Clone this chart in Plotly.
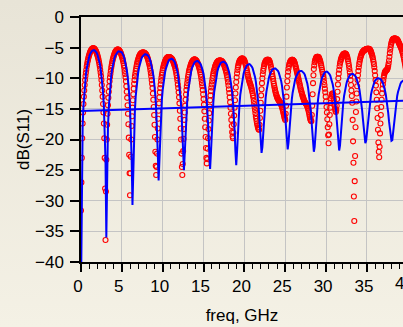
import base64
import plotly.graph_objects as go

# simulated trace grid (GHz), 0.0 .. 40.0 step 0.1
sim_freq = [round(0.1 * i, 2) for i in range(401)]
# measured trace grid (GHz), 0.0 .. 40.0 step 0.05
meas_freq = [round(0.05 * i, 2) for i in range(801)]

# simulated dB(S11) (blue line), one row per GHz
sim_db = [
    -45, -23.9, -17.9, -14.6, -12.3, -10.6, -9.4, -8.4, -7.6, -7.0,
    -6.5, -6.1, -5.8, -5.6, -5.5, -5.4, -5.4, -5.5, -5.6, -5.8,
    -6.1, -6.5, -7.0, -7.6, -8.4, -9.4, -10.6, -12.3, -14.6, -17.9,
    -23.6, -36.0, -23.8, -18.1, -14.8, -12.5, -10.8, -9.6, -8.6, -7.8,
    -7.2, -6.7, -6.3, -6.0, -5.8, -5.7, -5.6, -5.6, -5.6, -5.7,
    -5.8, -6.0, -6.3, -6.7, -7.2, -7.8, -8.6, -9.6, -10.8, -12.5,
    -14.7, -17.9, -23.2, -30.7, -23.6, -18.3, -15.2, -12.9, -11.2, -10.1,
    -9.1, -8.3, -7.7, -7.2, -6.8, -6.5, -6.3, -6.2, -6.1, -6.1,
    -6.1, -6.2, -6.3, -6.5, -6.8, -7.2, -7.7, -8.25, -9.05, -10.0,
    -11.2, -12.8, -15.0, -17.9, -22.3, -26.7, -23.0, -18.6, -15.7, -13.5,
    -11.9, -10.7, -9.75, -8.95, -8.4, -7.9, -7.5, -7.2, -7.0, -6.9,
    -6.8, -6.8, -6.9, -7.0, -7.2, -7.5, -7.85, -8.35, -8.9, -9.7,
    -10.7, -11.85, -13.4, -15.5, -18.4, -22.2, -25.0, -22.2, -18.6, -15.9,
    -13.8, -12.2, -11.1, -10.1, -9.3, -8.75, -8.25, -7.9, -7.6, -7.4,
    -7.3, -7.2, -7.2, -7.2, -7.3, -7.4, -7.6, -7.9, -8.25, -8.75,
    -9.3, -10.1, -11.1, -12.2, -13.8, -15.9, -18.6, -22.1, -24.8, -22.3,
    -18.7, -16.0, -13.9, -12.3, -11.2, -10.2, -9.4, -8.85, -8.35, -8.0,
    -7.7, -7.5, -7.4, -7.3, -7.3, -7.3, -7.4, -7.5, -7.7, -8.0,
    -8.35, -8.85, -9.4, -10.2, -11.15, -12.2, -13.8, -15.8, -18.4, -21.9,
    -24.2, -22.0, -18.8, -16.2, -14.2, -12.65, -11.6, -10.6, -9.8, -9.25,
    -8.75, -8.4, -8.1, -7.9, -7.8, -7.7, -7.7, -7.77, -7.87, -8.08,
    -8.35, -8.75, -9.2, -9.8, -10.55, -11.45, -12.5, -14.0, -15.8, -18.05,
    -20.6, -22.2, -21.25, -18.75, -16.5, -14.7, -13.2, -12.15, -11.25, -10.5,
    -9.9, -9.45, -9.05, -8.8, -8.6, -8.5, -8.4, -8.4, -8.4, -8.5,
    -8.6, -8.8, -9.05, -9.45, -9.9, -10.45, -11.2, -12.1, -13.15, -14.55,
    -16.3, -18.4, -20.7, -21.6, -20.5, -18.5, -16.5, -14.8, -13.5, -12.4,
    -11.5, -10.8, -10.3, -9.85, -9.45, -9.2, -9.0, -8.9, -8.8, -8.8,
    -8.8, -8.9, -9.0, -9.2, -9.45, -9.85, -10.3, -10.85, -11.6, -12.5,
    -13.55, -14.95, -16.7, -18.8, -21.1, -22.0, -21.2, -18.9, -16.8, -15.05,
    -13.65, -12.6, -11.7, -10.95, -10.4, -9.95, -9.55, -9.3, -9.1, -9.0,
    -8.9, -8.9, -9.0, -9.1, -9.3, -9.55, -9.95, -10.4, -10.95, -11.65,
    -12.55, -13.6, -15.0, -16.8, -18.8, -21.0, -21.8, -21.0, -19.0, -17.0,
    -15.3, -14.0, -12.9, -12.0, -11.3, -10.8, -10.35, -9.95, -9.7, -9.5,
    -9.4, -9.3, -9.3, -9.3, -9.4, -9.5, -9.7, -9.95, -10.3, -10.75,
    -11.3, -12.0, -12.8, -13.8, -15.1, -16.6, -18.3, -19.9, -20.6, -20.2,
    -18.75, -17.15, -15.7, -14.45, -13.5, -12.65, -12.0, -11.45, -11.0, -10.65,
    -10.35, -10.2, -10.1, -10.0, -10.0, -10.0, -10.1, -10.2, -10.35, -10.6,
    -11.0, -11.4, -11.95, -12.6, -13.45, -14.4, -15.6, -17.0, -18.5, -19.85,
    -20.2, -20.1, -18.8, -17.3, -15.9, -14.7, -13.75, -12.9, -12.25, -11.7,
    -11.3, -10.9, -10.65, -10.5, -10.4, -10.3, -10.3, -10.4, -10.55, -10.8,
    -11.2,
]

# measured dB(S11) (red circles), one row per GHz (20 points per row)
meas_db = [
    -31.6, -27.0, -23.0, -19.8, -17.4, -15.6, -14.2, -13.0, -12.0, -11.1, -10.3, -9.65, -9.1, -8.6, -8.1, -7.7, -7.3, -7.0, -6.7, -6.45,
    -6.2, -6.0, -5.8, -5.65, -5.5, -5.4, -5.3, -5.2, -5.15, -5.1, -5.1, -5.1, -5.15, -5.2, -5.3, -5.4, -5.5, -5.65, -5.8, -6.0,
    -6.2, -6.45, -6.7, -7.0, -7.3, -7.7, -8.1, -8.6, -9.1, -9.65, -10.3, -11.1, -12.0, -13.0, -14.2, -15.6, -17.4, -19.8, -23.0, -28.0,
    -36.4, -28.5, -23.3, -20.0, -17.6, -15.8, -14.4, -13.2, -12.2, -11.3, -10.5, -9.85, -9.3, -8.8, -8.3, -7.9, -7.5, -7.2, -6.9, -6.65,
    -6.4, -6.2, -6.0, -5.85, -5.7, -5.6, -5.5, -5.4, -5.35, -5.3, -5.3, -5.3, -5.35, -5.4, -5.5, -5.6, -5.7, -5.85, -6.0, -6.2,
    -6.4, -6.65, -6.9, -7.2, -7.5, -7.9, -8.3, -8.8, -9.3, -9.85, -10.5, -11.3, -12.2, -13.2, -14.4, -15.8, -17.5, -19.7, -22.5, -25.5,
    -29.1, -25.5, -22.8, -20.0, -17.8, -16.2, -14.8, -13.6, -12.6, -11.7, -10.9, -10.3, -9.7, -9.25, -8.8, -8.4, -8.0, -7.7, -7.4, -7.15,
    -6.9, -6.7, -6.5, -6.35, -6.2, -6.1, -6.0, -5.95, -5.9, -5.85, -5.8, -5.8, -5.8, -5.8, -5.8, -5.85, -5.9, -5.95, -6.0, -6.1,
    -6.2, -6.35, -6.5, -6.7, -6.9, -7.15, -7.4, -7.65, -7.95, -8.3, -8.75, -9.2, -9.7, -10.3, -10.9, -11.6, -12.5, -13.5, -14.7, -16.0,
    -17.6, -19.6, -22.0, -24.3, -25.8, -24.5, -22.3, -20.0, -18.2, -16.6, -15.3, -14.1, -13.1, -12.3, -11.6, -11.0, -10.4, -9.9, -9.45, -9.05,
    -8.65, -8.35, -8.05, -7.8, -7.6, -7.4, -7.2, -7.05, -6.9, -6.8, -6.7, -6.65, -6.6, -6.55, -6.55, -6.55, -6.55, -6.55, -6.6, -6.65,
    -6.7, -6.75, -6.8, -6.9, -7.0, -7.15, -7.3, -7.5, -7.7, -7.9, -8.1, -8.4, -8.7, -9.1, -9.5, -9.95, -10.4, -11.0, -11.6, -12.3,
    -13.1, -14.1, -15.3, -16.6, -18.2, -20.0, -22.3, -24.5, -25.8, -24.0, -21.9, -19.9, -18.3, -16.8, -15.6, -14.5, -13.5, -12.65, -11.9, -11.3,
    -10.8, -10.3, -9.8, -9.4, -9.0, -8.7, -8.45, -8.2, -7.95, -7.75, -7.6, -7.45, -7.3, -7.2, -7.1, -7.05, -7.0, -6.95, -6.9, -6.95,
    -7.0, -7.05, -7.1, -7.2, -7.3, -7.45, -7.6, -7.75, -7.95, -8.2, -8.45, -8.7, -9.0, -9.4, -9.8, -10.3, -10.8, -11.3, -11.9, -12.6,
    -13.4, -14.3, -15.4, -16.6, -18.0, -19.6, -21.4, -23.0, -23.9, -23.2, -21.5, -19.8, -18.3, -16.9, -15.7, -14.6, -13.6, -12.8, -12.1, -11.5,
    -11.0, -10.5, -10.0, -9.6, -9.2, -8.9, -8.65, -8.4, -8.15, -7.95, -7.8, -7.65, -7.5, -7.4, -7.3, -7.25, -7.2, -7.15, -7.1, -7.1,
    -7.1, -7.1, -7.1, -7.15, -7.2, -7.25, -7.3, -7.4, -7.5, -7.6, -7.75, -7.95, -8.15, -8.35, -8.6, -8.85, -9.1, -9.45, -9.8, -10.2,
    -10.7, -11.2, -11.8, -12.4, -13.1, -13.9, -14.8, -15.8, -16.8, -17.8, -18.8, -19.5, -19.8, -18.9, -17.5, -16.1, -14.8, -13.6, -12.5, -11.5,
    -10.6, -9.85, -9.2, -8.65, -8.2, -7.9, -7.6, -7.4, -7.2, -7.1, -7.0, -6.9, -6.85, -6.8, -6.8, -6.8, -6.8, -6.85, -6.9, -7.0,
    -7.1, -7.3, -7.5, -7.75, -8.0, -8.35, -8.7, -9.05, -9.4, -9.7, -10.0, -10.25, -10.5, -10.7, -10.9, -11.1, -11.3, -11.55, -11.8, -12.1,
    -12.4, -12.8, -13.2, -13.7, -14.2, -14.7, -15.2, -15.7, -16.2, -16.6, -17.0, -17.4, -17.7, -18.0, -18.2, -18.35, -18.4, -17.6, -16.5, -15.3,
    -14.0, -12.8, -11.8, -10.8, -10.0, -9.35, -8.8, -8.4, -8.0, -7.7, -7.5, -7.35, -7.2, -7.1, -7.05, -7.0, -7.0, -7.0, -7.0, -7.0,
    -7.05, -7.15, -7.3, -7.5, -7.8, -8.15, -8.5, -8.9, -9.3, -9.7, -10.1, -10.5, -10.9, -11.25, -11.6, -11.9, -12.2, -12.45, -12.7, -12.9,
    -13.1, -13.25, -13.4, -13.5, -13.6, -13.7, -13.8, -13.9, -14.0, -14.15, -14.3, -14.5, -14.7, -14.95, -15.2, -15.5, -15.8, -16.1, -16.4, -16.6,
    -16.8, -15.8, -14.5, -13.0, -11.5, -10.5, -9.6, -8.95, -8.4, -8.0, -7.7, -7.5, -7.3, -7.2, -7.1, -7.05, -7.0, -7.0, -7.0, -7.05,
    -7.1, -7.2, -7.3, -7.5, -7.7, -7.95, -8.2, -8.5, -8.8, -9.1, -9.4, -9.7, -10.0, -10.3, -10.6, -10.9, -11.2, -11.5, -11.8, -12.05,
    -12.3, -12.55, -12.8, -13.0, -13.2, -13.4, -13.6, -13.75, -13.9, -14.0, -14.1, -14.2, -14.3, -14.45, -14.6, -14.8, -15.0, -15.3, -15.6, -15.95,
    -16.3, -16.6, -16.8, -16.95, -17.0, -16.0, -14.5, -12.6, -10.8, -9.5, -8.5, -7.9, -7.4, -7.1, -6.9, -6.75, -6.6, -6.55, -6.5, -6.5,
    -6.5, -6.55, -6.6, -6.75, -6.9, -7.1, -7.3, -7.6, -7.9, -8.25, -8.6, -8.95, -9.3, -9.7, -10.1, -10.6, -11.1, -11.7, -12.3, -13.0,
    -13.8, -14.7, -15.6, -16.7, -18.0, -19.3, -20.6, -19.2, -17.5, -16.0, -14.8, -14.0, -13.3, -12.9, -12.6, -12.5, -12.5, -12.7, -13.0, -13.5,
    -14.0, -14.5, -15.0, -15.35, -15.5, -15.2, -14.5, -13.4, -12.2, -11.0, -10.0, -9.25, -8.6, -8.05, -7.6, -7.3, -7.0, -6.8, -6.6, -6.45,
    -6.3, -6.2, -6.1, -6.05, -6.0, -5.95, -5.95, -5.95, -6.0, -6.1, -6.2, -6.4, -6.6, -6.9, -7.2, -7.6, -8.0, -8.5, -9.0, -9.6,
    -10.3, -11.1, -12.0, -12.9, -14.0, -16.8, -20.3, -23.8, -29.3, -33.3, -26.8, -22.7, -18.0, -15.5, -13.8, -12.5, -11.3, -10.3, -9.5, -8.8,
    -8.2, -7.7, -7.3, -6.95, -6.65, -6.4, -6.2, -6.0, -5.85, -5.75, -5.65, -5.55, -5.5, -5.45, -5.4, -5.35, -5.3, -5.3, -5.25, -5.25,
    -5.2, -5.2, -5.2, -5.2, -5.2, -5.2, -5.25, -5.3, -5.4, -5.55, -5.7, -5.9, -6.1, -6.35, -6.6, -6.95, -7.3, -7.7, -8.2, -8.8,
    -9.5, -10.3, -11.2, -12.3, -13.5, -14.9, -16.5, -18.4, -20.5, -22.0, -22.9, -21.2, -19.0, -17.4, -16.0, -14.7, -13.5, -12.5, -11.7, -11.0,
    -10.4, -9.9, -9.5, -9.2, -9.0, -8.9, -8.8, -8.75, -8.7, -8.6, -8.5, -8.3, -8.0, -7.6, -7.1, -6.5, -5.9, -5.35, -4.9, -4.5,
    -4.2, -4.0, -3.8, -3.7, -3.6, -3.55, -3.5, -3.5, -3.5, -3.5, -3.5, -3.55, -3.6, -3.65, -3.7, -3.8, -3.9, -4.05, -4.2, -4.35,
    -4.5, -4.65, -4.8, -4.95, -5.1, -5.3, -5.5, -5.75, -6.0, -6.3, -6.6, -6.95, -7.3, -7.65, -8.0, -8.4, -8.8, -9.2, -9.6, -10.0,
    -10.4,
]

# straight reference line
ref_freq = [0, 40]
ref_db = [-15.35, -13.65]

x_ticks = [0, 5, 10, 15, 20, 25, 30, 35, 40]
y_ticks = [0, -5, -10, -15, -20, -25, -30, -35, -40]

assert len(sim_db) == len(sim_freq), len(sim_db)
assert len(meas_db) == len(meas_freq), len(meas_db)

W, H = 403, 327
ML, MR, MT, MB = 81, 0, 17, 65
PW, PH = W - ML - MR, H - MT - MB
PX_PER_GHZ = 8.17
XMAX = PW / PX_PER_GHZ  # right part of the axis is cut off by the window

bg_svg = (
    '<svg xmlns="http://www.w3.org/2000/svg" width="403" height="327">'
    '<defs><linearGradient id="g" x1="0" y1="0" x2="0" y2="1">'
    '<stop offset="0" stop-color="#e8e4d7"/><stop offset="1" stop-color="#f4f1e5"/>'
    '</linearGradient></defs><rect width="403" height="327" fill="url(#g)"/></svg>'
)
bg_src = "data:image/svg+xml;base64," + base64.b64encode(bg_svg.encode()).decode()

FONT = "Liberation Sans, Arial, sans-serif"

fig = go.Figure()
fig.add_trace(go.Scatter(
    x=meas_freq, y=meas_db, mode="markers",
    marker=dict(symbol="circle-open", size=5, color="#ff0000", line=dict(width=1.1)),
))
fig.add_trace(go.Scatter(
    x=sim_freq, y=sim_db, mode="lines", line=dict(color="#0000ff", width=2),
))
fig.add_trace(go.Scatter(
    x=ref_freq, y=ref_db, mode="lines", line=dict(color="#0000ff", width=2),
))

fig.update_layout(
    width=W, height=H,
    margin=dict(l=ML, r=MR, t=MT, b=MB, pad=0),
    paper_bgcolor="#eeebdf",
    plot_bgcolor="rgba(0,0,0,0)",
    showlegend=False,
    font=dict(family=FONT, size=17, color="black"),
    images=[dict(
        source=bg_src, xref="paper", yref="paper",
        x=-ML / PW, y=1 + MT / PH, sizex=W / PW, sizey=H / PH,
        xanchor="left", yanchor="top", sizing="stretch", layer="below",
    )],
    xaxis=dict(
        range=[0, XMAX], tickvals=x_ticks, ticks="outside", ticklen=8, tickwidth=1.5,
        tickcolor="black", showline=True, linecolor="black", linewidth=1.5, mirror=True,
        showgrid=True, gridcolor="#c4c4c4", gridwidth=1.2, zeroline=False,
        minor=dict(dtick=1, ticks="outside", ticklen=5, tickwidth=1, tickcolor="black", showgrid=False),
        ticklabelshift=-3, automargin=False,
        title=dict(text="freq, GHz", standoff=14, font=dict(size=17)),
    ),
    yaxis=dict(
        range=[-40, 0], tickvals=y_ticks, ticks="outside", ticklen=9, tickwidth=1.5,
        tickcolor="black", showline=True, linecolor="black", linewidth=1.5, mirror=False,
        showgrid=True, gridcolor="#c4c4c4", gridwidth=1.2, zeroline=False,
        ticklabelstandoff=3, automargin=False,
        title=dict(text="dB(S11)", standoff=1, font=dict(size=17)),
    ),
    annotations=[dict(
        text="40", xref="paper", yref="paper", x=(PX_PER_GHZ * 40 - 3) / PW, y=-21 / PH,
        xanchor="center", yanchor="middle", showarrow=False, font=dict(size=17),
    )],
)

fig.write_html("out.html")
